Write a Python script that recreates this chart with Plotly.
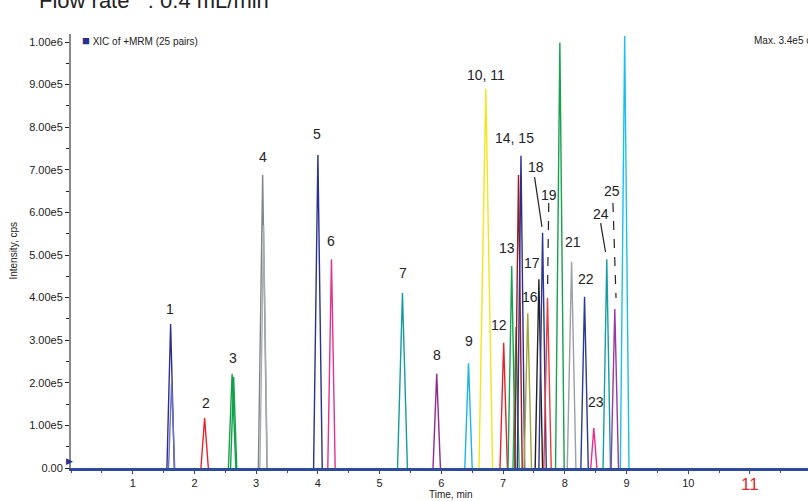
import plotly.graph_objects as go

# ---- data ----
peak_times = [1.614, 1.63, 2.165, 2.61, 2.635, 3.105, 3.12, 4.00, 4.22, 5.37, 5.925, 6.44, 6.72,
              7.01, 7.14, 7.21, 7.25, 7.29, 7.40, 7.58, 7.64, 7.72, 7.92, 8.11, 8.32, 8.47,
              8.68, 8.81, 8.97]
peak_heights = [338000, 200000, 117000, 221000, 214000, 688000, 570000, 735000, 490000, 411000,
                221000, 246000, 890000, 294000, 474000, 331000, 688000, 733000, 363000, 443000,
                552000, 399000, 998000, 484000, 402000, 94000, 490000, 373000, 1014000]
peak_colors = ["#2b2f8f", "#6a76c0", "#e8222c", "#12a04a", "#12a04a", "#7f858b", "#a9adb1",
               "#27318f", "#e8308c", "#149c9c", "#8e2a90", "#1ab4ea", "#f5e41a", "#e3242b",
               "#17a04d", "#2aa858", "#9e1b1b", "#2c2f8f", "#a3a33a", "#222222", "#2c3595",
               "#ef3a3a", "#17a04d", "#9aa0a6", "#283a9a", "#ec2a8c", "#169ea6", "#9a3aa0",
               "#1cc0ef"]
peak_halfwidths = [0.06, 0.05, 0.06, 0.06, 0.05, 0.07, 0.06, 0.07, 0.06, 0.08, 0.06, 0.06, 0.11,
                   0.06, 0.06, 0.05, 0.06, 0.06, 0.06, 0.06, 0.06, 0.06, 0.07, 0.07, 0.06, 0.05,
                   0.06, 0.06, 0.07]

label_texts = ["1", "2", "3", "4", "5", "6", "7", "8", "9", "10, 11", "12", "13", "14, 15",
               "16", "17", "18", "19", "20", "21", "22", "23", "24", "25", "26"]
label_t = [1.61, 2.18, 2.62, 3.11, 3.99, 4.22, 5.375, 5.925, 6.44, 6.72, 6.93, 7.06, 7.19,
           7.43, 7.465, 7.53, 7.74, 7.94, 8.13, 8.34, 8.50, 8.58, 8.76, 8.97]
label_I = [373000, 153000, 258000, 730000, 784000, 533000, 458000, 265000, 298000, 922000,
           335000, 517000, 775000, 401000, 481000, 707000, 641000, 1049000, 530000, 444000,
           155000, 596000, 651000, 1063000]

# leader lines (start t, start I, end t, end I, dashed)
leaders = [
    (7.51, 683000, 7.63, 566000, False),
    (7.74, 622000, 7.72, 413000, True),
    (8.58, 575000, 8.66, 507000, False),
    (8.78, 622000, 8.83, 399000, True),
]

ytick_vals = [0, 100000, 200000, 300000, 400000, 500000, 600000, 700000, 800000, 900000, 1000000]
ytick_text = ["0.00", "1.00e5", "2.00e5", "3.00e5", "4.00e5", "5.00e5", "6.00e5", "7.00e5",
              "8.00e5", "9.00e5", "1.00e6"]
xtick_vals = [1, 2, 3, 4, 5, 6, 7, 8, 9, 10, 11]
xtick_text = ["1", "2", "3", "4", "5", "6", "7", "8", "9", "10", ""]

FONT = "Liberation Sans, Arial, sans-serif"
X_MAX = 11.94
Y_MAX = 1018800

fig = go.Figure()
for t, h, c, w in zip(peak_times, peak_heights, peak_colors, peak_halfwidths):
    fig.add_trace(go.Scatter(x=[t - w, t, t + w], y=[0, h, 0], mode="lines",
                             line=dict(color=c, width=1.4), showlegend=False,
                             hoverinfo="skip"))

annotations = []
for txt, t, v in zip(label_texts, label_t, label_I):
    annotations.append(dict(x=t, y=v, xref="x", yref="y", text=txt, showarrow=False,
                            font=dict(family=FONT, size=14, color="#222"),
                            xanchor="center", yanchor="middle"))

shapes = []
for x0, y0, x1, y1, dashed in leaders:
    shapes.append(dict(type="line", xref="x", yref="y", x0=x0, y0=y0, x1=x1, y1=y1,
                       line=dict(color="#222", width=1.2, dash="dash" if dashed else "solid")))

# title (partly cut at top)
annotations.append(dict(x=(37 - 71.4) / 737.0, y=1.0438, xref="paper", yref="paper",
                        text="Flow rate\u00a0\u00a0\u00a0: 0.4 mL/min", showarrow=False,
                        xanchor="left", yanchor="bottom",
                        font=dict(family=FONT, size=22, color="#222")))
# legend-like label
annotations.append(dict(x=(80 - 71.4) / 737.0, y=(468 - 41) / 434.0, xref="paper", yref="paper",
                        text="<span style='color:#2b2f8f;font-size:13px'>■</span> XIC of +MRM (25 pairs)",
                        showarrow=False, xanchor="left", yanchor="middle",
                        font=dict(family=FONT, size=10, color="#222")))
annotations.append(dict(x=(752 - 71.4) / 737.0, y=(468 - 41) / 434.0, xref="paper", yref="paper",
                        text="Max. 3.4e5 cps.", showarrow=False, xanchor="left",
                        yanchor="middle", font=dict(family=FONT, size=10, color="#222")))
# axis titles
annotations.append(dict(x=(13 - 71.4) / 737.0, y=0.5, xref="paper", yref="paper",
                        text="Intensity, cps", textangle=-90, showarrow=False,
                        xanchor="center", yanchor="middle",
                        font=dict(family=FONT, size=10, color="#222")))
annotations.append(dict(x=6.15, y=(468 - 494) / 434.0, xref="x", yref="paper",
                        text="Time, min", showarrow=False, xanchor="center", yanchor="middle",
                        font=dict(family=FONT, size=10, color="#222")))
# red "11" tick label
annotations.append(dict(x=11, y=(468 - 484) / 434.0, xref="x", yref="paper",
                        text="11", showarrow=False, xanchor="center", yanchor="middle",
                        font=dict(family=FONT, size=17, color="#e02a2a")))
# small marker at left of axis
annotations.append(dict(x=(69.5 - 71.4) / 737.0, y=(468 - 461) / 434.0, xref="paper",
                        yref="paper", text="▶", showarrow=False, xanchor="center",
                        yanchor="middle", font=dict(family=FONT, size=9, color="#2b2f8f")))

fig.update_layout(
    width=808, height=501,
    margin=dict(l=71, r=0, t=34, b=33),
    paper_bgcolor="white", plot_bgcolor="white",
    showlegend=False,
    annotations=annotations,
    shapes=shapes,
    xaxis=dict(range=[0, X_MAX], tickvals=xtick_vals, ticktext=xtick_text,
               showgrid=False, zeroline=False, showline=True, linecolor="#2c4a9e",
               linewidth=2.5, ticks="outside", ticklen=3, tickcolor="#444", tickwidth=1,
               minor=dict(dtick=0.5, ticks="outside", ticklen=2, tickcolor="#444"),
               tickfont=dict(family=FONT, size=11, color="#222"), layer="above traces",
               fixedrange=True),
    yaxis=dict(range=[0, Y_MAX], tickvals=ytick_vals, ticktext=ytick_text,
               showgrid=False, zeroline=False, showline=True, linecolor="#8a8a8a",
               linewidth=2, ticks="outside", ticklen=4, tickcolor="#222", tickwidth=1,
               minor=dict(tickvals=[50000, 150000, 250000, 350000, 450000, 550000, 650000,
                                    750000, 850000, 950000],
                          ticks="outside", ticklen=3, tickcolor="#222"),
               tickfont=dict(family=FONT, size=11, color="#222"), fixedrange=True),
)

fig.write_html("out.html", config={"displayModeBar": False},
               post_script="document.body.style.margin='0px';document.body.style.overflow='hidden';")
